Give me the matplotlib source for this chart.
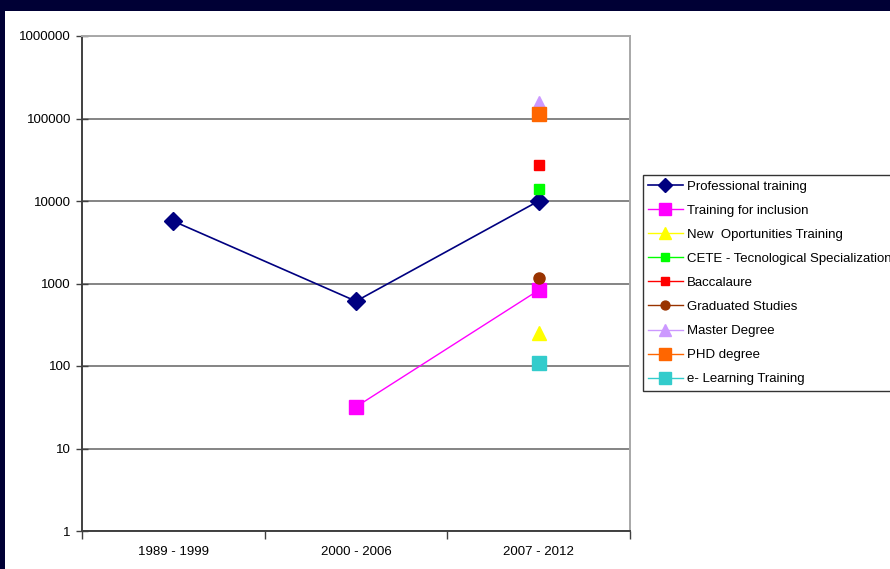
import numpy as np
import matplotlib
matplotlib.use("Agg")
import matplotlib.pyplot as plt
from matplotlib.patches import Rectangle

plt.rcParams['font.family'] = ['Liberation Sans', 'DejaVu Sans']

periods = ["1989 - 1999", "2000 - 2006", "2007 - 2012"]
nan = np.nan

professional_training = [5700, 610, 10000]
training_for_inclusion = [nan, 32, 830]
new_oportunities = [nan, nan, 250]
cete = [nan, nan, 14000]
baccalaure = [nan, nan, 27000]
graduated_studies = [nan, nan, 1180]
master_degree = [nan, nan, 155000]
phd_degree = [nan, nan, 113000]
e_learning = [nan, nan, 108]

series = [
    ("Professional training", professional_training, "#000080", "D", 9, 1.2),
    ("Training for inclusion", training_for_inclusion, "#FF00FF", "s", 10, 1.0),
    ("New  Oportunities Training", new_oportunities, "#FFFF00", "^", 10, 1.0),
    ("CETE - Tecnological Specialization", cete, "#00FF00", "s", 7, 1.0),
    ("Baccalaure", baccalaure, "#FF0000", "s", 7, 1.0),
    ("Graduated Studies", graduated_studies, "#993300", "o", 8, 1.0),
    ("Master Degree", master_degree, "#CC99FF", "^", 10, 1.0),
    ("PHD degree", phd_degree, "#FF6600", "s", 10, 1.0),
    ("e- Learning Training", e_learning, "#33CCCC", "s", 10, 1.0),
]

fig = plt.figure(figsize=(8.9, 5.69), dpi=100)
fig.patch.set_facecolor("#000035")
fig.patches.append(Rectangle((5 / 890, 0), 1, (569 - 11) / 569,
                             transform=fig.transFigure, facecolor="white",
                             edgecolor="none", zorder=-10))

ax = fig.add_axes([82 / 890, (569 - 531) / 569, (630 - 82) / 890, (531 - 36) / 569])
ax.set_zorder(1)
ax.set_facecolor("white")
x = np.arange(len(periods))

for label, vals, color, marker, ms, lw in series:
    ax.plot(x, vals, color=color, marker=marker, markersize=ms, linewidth=lw,
            markerfacecolor=color, markeredgecolor=color, label=label, zorder=3)

ax.set_yscale("log")
ax.set_ylim(1, 1e6)
ax.set_xlim(-0.5, 2.5)
ax.set_yticks([1, 10, 100, 1000, 10000, 100000, 1000000])
ax.set_yticklabels(["1", "10", "100", "1000", "10000", "100000", "1000000"])
ax.yaxis.set_minor_locator(matplotlib.ticker.NullLocator())
ax.grid(axis="y", which="major", color="#707070", linewidth=1.2, zorder=1)
ax.set_axisbelow(True)

ax.set_xticks(x)
ax.set_xticklabels(periods)
ax.set_xticks([-0.5, 0.5, 1.5, 2.5], minor=True)
ax.tick_params(axis="x", which="major", length=0, pad=11, labelsize=9.5, colors="black")
ax.tick_params(axis="x", which="minor", length=6, direction="out", width=1, color="#404040")
ax.tick_params(axis="y", which="major", length=8, direction="inout", width=1,
               color="#404040", labelsize=9.5, pad=4)

for side in ("left", "bottom"):
    ax.spines[side].set_color("#404040")
    ax.spines[side].set_linewidth(1.4)
for side in ("top", "right"):
    ax.spines[side].set_color("#a8a8a8")
    ax.spines[side].set_linewidth(1.4)

leg = fig.legend(loc="upper left", bbox_to_anchor=(643 / 890, (569 - 175) / 569),
                 frameon=True, fancybox=False, shadow=False, fontsize=9.5,
                 handlelength=2.6, handletextpad=0.3, labelspacing=0.9,
                 borderpad=0.4, borderaxespad=0, markerscale=0.8)
leg.get_frame().set_edgecolor("black")
leg.get_frame().set_linewidth(1.0)
leg.set_zorder(5)

fig.savefig("out.png", dpi=100, facecolor=fig.get_facecolor())
